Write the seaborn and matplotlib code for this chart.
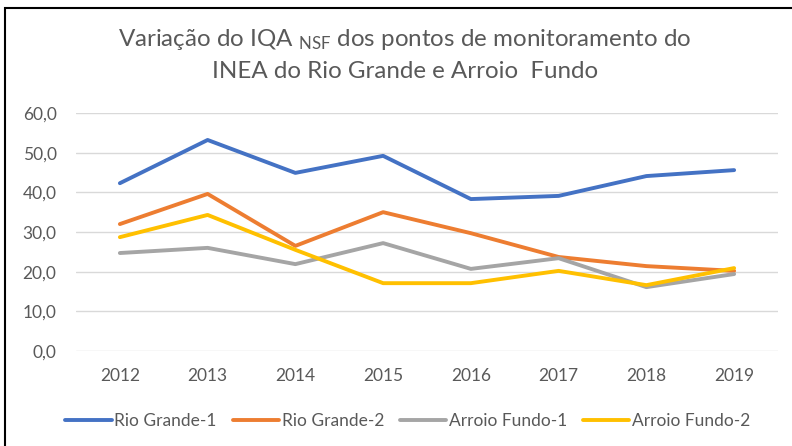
import matplotlib
matplotlib.use("Agg")
import matplotlib.pyplot as plt
import seaborn as sns
import pandas as pd
from matplotlib.patches import Rectangle

years = [2012, 2013, 2014, 2015, 2016, 2017, 2018, 2019]
rio_grande_1 = [42.3, 53.2, 44.9, 49.2, 38.3, 39.1, 44.1, 45.6]
rio_grande_2 = [32.0, 39.6, 26.5, 35.0, 29.7, 23.7, 21.4, 20.2]
arroio_fundo_1 = [24.7, 26.0, 21.9, 27.2, 20.7, 23.4, 16.1, 19.4]
arroio_fundo_2 = [28.7, 34.3, 25.5, 17.1, 17.1, 20.2, 16.6, 20.9]
series_names = ["Rio Grande-1", "Rio Grande-2", "Arroio Fundo-1", "Arroio Fundo-2"]
yticks = [0, 10, 20, 30, 40, 50, 60]

rows = []
for name, vals in zip(series_names, [rio_grande_1, rio_grande_2, arroio_fundo_1, arroio_fundo_2]):
    for y, v in zip(years, vals):
        rows.append({"Ano": y, "IQA": v, "Ponto": name})
df = pd.DataFrame(rows)

sns.set_theme(style="white")
plt.rcParams["font.family"] = ["Lato", "DejaVu Sans"]
plt.rcParams["mathtext.fontset"] = "custom"
plt.rcParams["mathtext.rm"] = "Lato"
plt.rcParams["mathtext.default"] = "regular"

txt = "#595959"
fig = plt.figure(figsize=(7.92, 4.46), dpi=100)
ax = fig.add_axes([76/792, 1-351/446, (778-76)/792, (351-113)/446])

palette = {"Rio Grande-1": "#4472C4", "Rio Grande-2": "#ED7D31",
           "Arroio Fundo-1": "#A5A5A5", "Arroio Fundo-2": "#FFC000"}
sns.lineplot(data=df, x="Ano", y="IQA", hue="Ponto", palette=palette,
             hue_order=series_names, linewidth=2.8, ax=ax, legend=True)

ax.set_xlim(2011.5, 2019.5)
ax.set_ylim(0, 60)
ax.set_yticks(yticks)
ax.set_yticklabels([f"{v:.1f}".replace(".", ",") for v in yticks], color=txt, fontsize=12.5)
ax.set_xticks(years)
ax.set_xticklabels([str(y) for y in years], color=txt, fontsize=12.5)
ax.tick_params(axis="x", length=0, pad=12)
ax.tick_params(axis="y", length=0, pad=14)
ax.grid(axis="y", color="#D9D9D9", linewidth=1)
ax.set_axisbelow(True)
for s in ax.spines.values():
    s.set_visible(False)
ax.set_xlabel("")
ax.set_ylabel("")

leg = ax.legend(loc="center", bbox_to_anchor=(408/792, 1-421/446), bbox_transform=fig.transFigure,
                ncol=4, frameon=False, fontsize=12.5, handlelength=2.65, handletextpad=0.17,
                columnspacing=0.92)
for t in leg.get_texts():
    t.set_color(txt)
for l in leg.get_lines():
    l.set_linewidth(2.8)

fig.text(405/792, 1-40/446, r"Variação do IQA $_{NSF}$ dos pontos de monitoramento do",
         ha="center", va="center", fontsize=17.4, color=txt)
fig.text(405/792, 1-72/446, "INEA do Rio Grande e Arroio  Fundo",
         ha="center", va="center", fontsize=17.4, color=txt)

fig.patches.append(Rectangle((5/792, -0.1), 1.2, 1-8/446+0.1, transform=fig.transFigure,
                             fill=False, edgecolor="black", linewidth=1.5))

fig.savefig("out.png", dpi=100)
